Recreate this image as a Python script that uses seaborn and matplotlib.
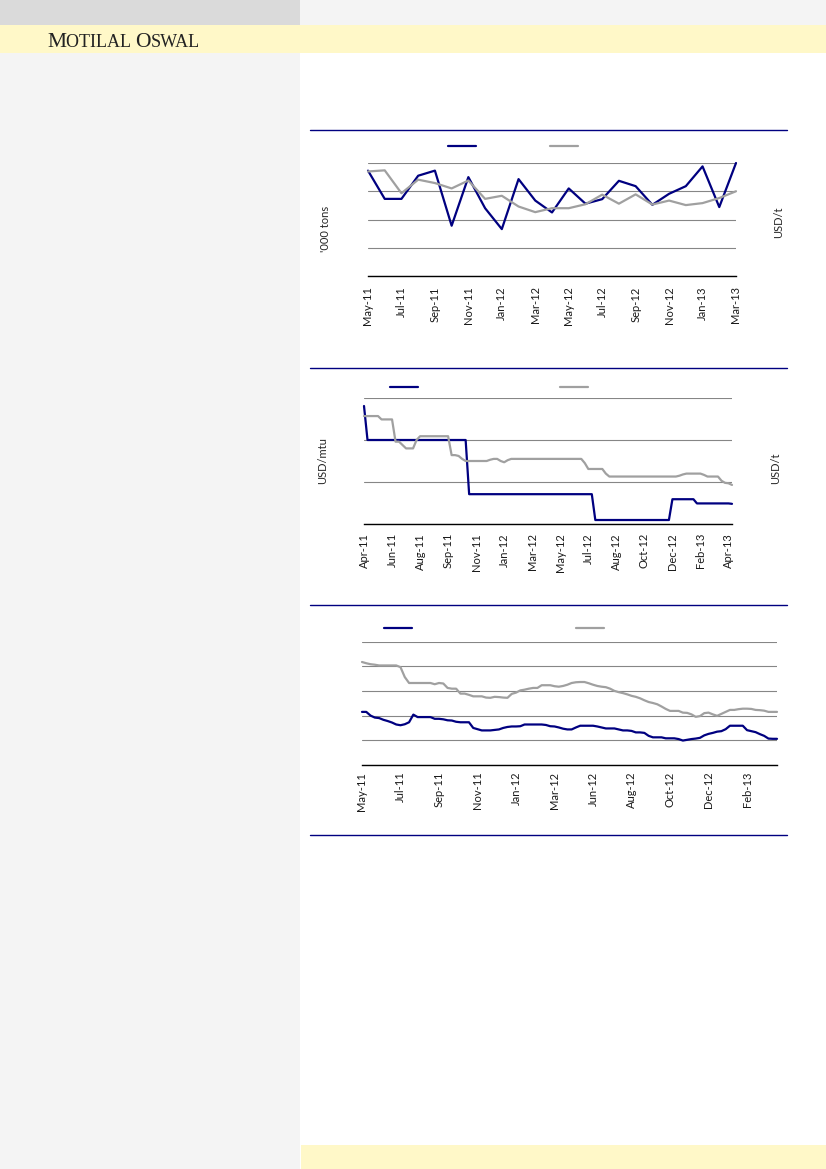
import numpy as np
import pandas as pd
import seaborn as sns
import matplotlib.pyplot as plt
from matplotlib.patches import Rectangle
from matplotlib.lines import Line2D
from matplotlib.offsetbox import TextArea, HPacker, AnnotationBbox

# ---- data ----
# chart 1: monthly, May-11 .. Mar-13
c1_labels = ['May-11', 'Jul-11', 'Sep-11', 'Nov-11', 'Jan-12', 'Mar-12', 'May-12',
             'Jul-12', 'Sep-12', 'Nov-12', 'Jan-13', 'Mar-13']
c1_volume = [373, 273, 273, 355, 373, 178, 350, 240, 166, 343, 267, 225,
             310, 256, 272, 337, 318, 252, 291, 318, 388, 244, 400]
c1_price = [185, 187, 146.5, 170.5, 164.5, 155, 169, 136.5, 142, 123, 113, 120,
            120, 127, 144, 128, 144.5, 126.5, 133.5, 125.5, 129, 138, 150]

# chart 2: weekly, Apr-11 .. Apr-13
c2_labels = ['Apr-11', 'Jun-11', 'Aug-11', 'Sep-11', 'Nov-11', 'Jan-12', 'Mar-12',
             'May-12', 'Jul-12', 'Aug-12', 'Oct-12', 'Dec-12', 'Feb-13', 'Apr-13']
c2_ore = [14.05,
          10, 10, 10, 10, 10, 10, 10, 10, 10, 10, 10, 10, 10, 10, 10,
          10, 10, 10, 10, 10, 10, 10, 10, 10, 10, 10, 10, 10, 10,
          3.55, 3.55, 3.55, 3.55, 3.55, 3.55, 3.55, 3.55, 3.55, 3.55, 3.55, 3.55,
          3.55, 3.55, 3.55, 3.55, 3.55, 3.55, 3.55, 3.55, 3.55, 3.55, 3.55, 3.55,
          3.55, 3.55, 3.55, 3.55, 3.55, 3.55, 3.55, 3.55, 3.55, 3.55, 3.55, 3.55,
          0.475, 0.475, 0.475, 0.475, 0.475, 0.475, 0.475, 0.475, 0.475, 0.475, 0.475,
          0.475, 0.475, 0.475, 0.475, 0.475, 0.475, 0.475, 0.475, 0.475, 0.475, 0.475,
          2.95, 2.95, 2.95, 2.95, 2.95, 2.95, 2.95,
          2.45, 2.45, 2.45, 2.45, 2.45, 2.45, 2.45, 2.45, 2.45, 2.45,
          2.4]
c2_alloy = [1285, 1285, 1285, 1285, 1285, 1245, 1245, 1245, 1245, 980,
            980, 940, 900, 900, 900, 1000, 1045, 1045, 1045, 1045,
            1045, 1045, 1045, 1045, 1045, 820, 820, 810, 775, 750,
            750, 750, 750, 750, 750, 750, 765, 775, 775, 750,
            735, 760, 775, 775, 775, 775, 775, 775, 775, 775,
            775, 775, 775, 775, 775, 775, 775, 775, 775, 775,
            775, 775, 775, 725, 655, 655, 655, 655, 655, 600,
            565, 565, 565, 565, 565, 565, 565, 565, 565, 565,
            565, 565, 565, 565, 565, 565, 565, 565, 565, 565,
            575, 590, 600, 600, 600, 600, 600, 585, 565, 565,
            565, 565, 515, 490, 485, 465]

# chart 3: weekly, May-11 .. Mar-13
c3_labels = ['May-11', 'Jul-11', 'Sep-11', 'Nov-11', 'Jan-12', 'Mar-12', 'Jun-12',
             'Aug-12', 'Oct-12', 'Dec-12', 'Feb-13']
c3_blue = [2.15, 2.15, 2.00, 1.92, 1.90, 1.83, 1.78, 1.72, 1.64, 1.61,
           1.65, 1.73, 2.04, 1.94, 1.94, 1.94, 1.94, 1.87, 1.87, 1.85,
           1.81, 1.80, 1.75, 1.73, 1.73, 1.73, 1.50, 1.45, 1.40, 1.40,
           1.40, 1.42, 1.44, 1.50, 1.54, 1.56, 1.56, 1.57, 1.64, 1.64,
           1.64, 1.64, 1.64, 1.62, 1.57, 1.56, 1.52, 1.47, 1.44, 1.44,
           1.52, 1.59, 1.59, 1.59, 1.59, 1.56, 1.52, 1.48, 1.48, 1.48,
           1.44, 1.40, 1.40, 1.38, 1.32, 1.32, 1.30, 1.18, 1.12, 1.12,
           1.12, 1.08, 1.08, 1.08, 1.05, 0.99, 1.02, 1.05, 1.07, 1.10,
           1.20, 1.26, 1.30, 1.35, 1.37, 1.45, 1.59, 1.59, 1.59, 1.59,
           1.41, 1.37, 1.33, 1.25, 1.18, 1.07, 1.06, 1.06]
c3_gray = [4.17, 4.12, 4.08, 4.06, 4.03, 4.03, 4.03, 4.03, 4.03, 3.96,
           3.56, 3.32, 3.32, 3.32, 3.32, 3.32, 3.32, 3.27, 3.32, 3.30,
           3.12, 3.09, 3.09, 2.89, 2.89, 2.84, 2.78, 2.78, 2.78, 2.73,
           2.72, 2.76, 2.75, 2.73, 2.72, 2.88, 2.93, 3.02, 3.05, 3.09,
           3.12, 3.12, 3.23, 3.23, 3.23, 3.19, 3.17, 3.20, 3.25, 3.32,
           3.35, 3.36, 3.36, 3.31, 3.25, 3.20, 3.17, 3.15, 3.09, 3.00,
           2.95, 2.91, 2.86, 2.80, 2.76, 2.70, 2.62, 2.55, 2.51, 2.46,
           2.37, 2.27, 2.19, 2.19, 2.19, 2.12, 2.11, 2.05, 1.95, 1.98,
           2.10, 2.12, 2.05, 1.99, 2.07, 2.15, 2.23, 2.23, 2.26, 2.28,
           2.28, 2.27, 2.23, 2.22, 2.20, 2.15, 2.15, 2.15]

NAVY = '#000080'
GREY = '#a0a0a0'
GRID = '#868686'

sns.set_theme(style='white')
plt.rcParams['font.family'] = ['Lato', 'DejaVu Sans']

W, H = 826, 1169
fig = plt.figure(figsize=(8.26, 11.69), dpi=100)
fig.patch.set_facecolor('white')


def fx(px):
    return px / W


def fy(py):
    return 1 - py / H


# page furniture
for (x0, y0, x1, y1, col) in [(0, 0, 300, 1169, '#f4f4f4'),
                              (0, 0, 300, 25, '#dadada'),
                              (300, 0, 826, 25, '#f4f4f4'),
                              (0, 25, 826, 53, '#fff8c8'),
                              (301, 1145, 826, 1169, '#fff8c8')]:
    fig.patches.append(Rectangle((fx(x0), fy(y1)), fx(x1) - fx(x0), fy(y0) - fy(y1),
                                 transform=fig.transFigure, facecolor=col,
                                 edgecolor='none', zorder=-10))

for yy in [130, 368, 605, 835]:
    fig.add_artist(Line2D([fx(310), fx(787)], [fy(yy), fy(yy)],
                          transform=fig.transFigure, color=NAVY, lw=1.0))

# small-caps style logo text
big = dict(fontsize=15.5, family='Liberation Serif', color='#222222')
small = dict(fontsize=13, family='Liberation Serif', color='#222222')
logo = HPacker(children=[TextArea('M', textprops=big), TextArea('OTILAL ', textprops=small),
                         TextArea('O', textprops=big), TextArea('SWAL', textprops=small)],
               align='baseline', pad=0, sep=0)
fig.add_artist(AnnotationBbox(logo, (fx(47), fy(52)), xycoords='figure fraction',
                              box_alignment=(0, 0), frameon=False, pad=0))


def style(ax, n, ticks, labels, ylim, step, pad):
    ax.set_xlim(0, n - 1)
    ax.set_ylim(*ylim)
    ax.set_yticks(np.arange(ylim[0], ylim[1] + step / 2, step))
    ax.yaxis.grid(True, color=GRID, lw=0.8)
    ax.xaxis.grid(False)
    ax.set_axisbelow(True)
    ax.tick_params(axis='y', length=0, labelleft=False, labelright=False)
    ax.set_xticks(ticks)
    ax.set_xticklabels(labels, rotation=90, fontsize=8, color='#1a1a1a')
    ax.tick_params(axis='x', length=0, pad=pad)
    for s in ['left', 'right', 'top']:
        ax.spines[s].set_visible(False)
    ax.spines['bottom'].set_color('black')
    ax.spines['bottom'].set_linewidth(1.0)
    ax.set_facecolor('none')


def twin_clean(ax2, ylim):
    ax2.set_ylim(*ylim)
    ax2.grid(False)
    ax2.tick_params(axis='y', length=0, labelright=False, labelleft=False)
    for s in ax2.spines.values():
        s.set_visible(False)


def add_legend(ax, lines, x, y, spacing):
    ax.legend(handles=lines, labels=['', ''], ncol=2, frameon=False, loc='center',
              bbox_to_anchor=(x, y), fontsize=8, handlelength=2.5,
              handletextpad=0.4, columnspacing=spacing, borderpad=0)


# ---- chart 1 ----
ax1 = fig.add_axes([fx(368), fy(276), fx(736) - fx(368), fy(163) - fy(276)])
x1 = np.arange(len(c1_volume))
sns.lineplot(x=x1, y=c1_volume, ax=ax1, color=NAVY, lw=1.6)
ax1b = ax1.twinx()
sns.lineplot(x=x1, y=c1_price, ax=ax1b, color=GREY, lw=1.6)
style(ax1, len(c1_volume), x1[::2], c1_labels, (0, 400), 100, 7.5)
twin_clean(ax1b, (0, 200))
ax1.set_ylabel("'000 tons", fontsize=8)
ax1.yaxis.set_label_coords(-37 / 368, 0.42)
ax1b.set_ylabel('USD/t', fontsize=8)
ax1b.yaxis.set_label_position('right')
ax1b.yaxis.set_label_coords(1 + 37 / 368, 0.48)
add_legend(ax1b, [ax1.lines[0], ax1b.lines[0]], (515 - 368) / 368, 1 + 16.5 / 113, 6.3)

# ---- chart 2 ----
ax2 = fig.add_axes([fx(364), fy(524), fx(732) - fx(364), fy(398) - fy(524)])
x2 = np.arange(len(c2_ore))
sns.lineplot(x=x2, y=c2_ore, ax=ax2, color=NAVY, lw=1.6)
ax2b = ax2.twinx()
sns.lineplot(x=x2, y=c2_alloy, ax=ax2b, color=GREY, lw=1.6)
style(ax2, len(c2_ore), x2[::8], c2_labels, (0, 15), 5, 6.5)
twin_clean(ax2b, (0, 1500))
ax2.set_ylabel('USD/mtu', fontsize=8)
ax2.yaxis.set_label_coords(-36 / 368, 0.5)
ax2b.set_ylabel('USD/t', fontsize=8)
ax2b.yaxis.set_label_position('right')
ax2b.yaxis.set_label_coords(1 + 38 / 368, 0.44)
add_legend(ax2b, [ax2.lines[0], ax2b.lines[0]], (491.5 - 364) / 368, 1 + 10.3 / 126, 12.4)

# ---- chart 3 ----
ax3 = fig.add_axes([fx(362), fy(765), fx(777) - fx(362), fy(641.5) - fy(765)])
x3 = np.arange(len(c3_blue))
sns.lineplot(x=x3, y=c3_gray, ax=ax3, color=GREY, lw=1.6)
sns.lineplot(x=x3, y=c3_blue, ax=ax3, color=NAVY, lw=1.6)
style(ax3, len(c3_blue), x3[::9], c3_labels, (0, 5), 1, 4.8)
add_legend(ax3, [ax3.lines[1], ax3.lines[0]], (496 - 362) / 415, 1 + 13 / 123.5, 14.4)

for ax in [ax1, ax1b, ax2, ax2b, ax3]:
    for ln in ax.lines:
        ln.set_clip_on(False)
        ln.set_solid_joinstyle('round')

fig.savefig('out.png', dpi=100)
